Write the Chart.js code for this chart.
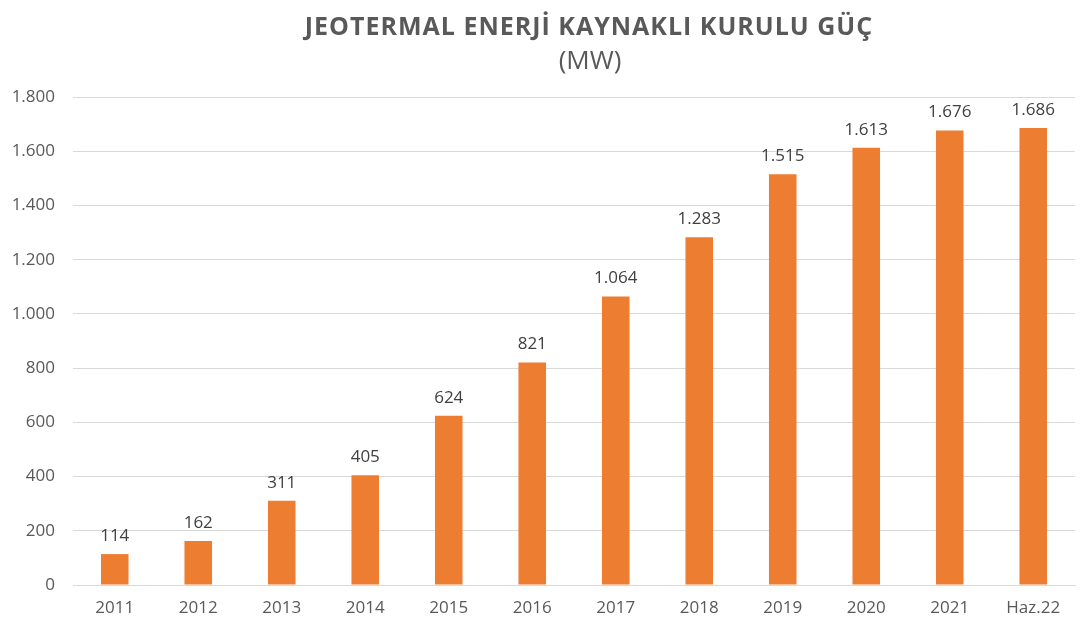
<!DOCTYPE html>
<html>
<head>
<meta charset="utf-8">
<script src="https://cdn.jsdelivr.net/npm/chart.js@4/dist/chart.umd.min.js"></script>
<style>
  html, body { margin: 0; padding: 0; background: #ffffff; }
  #wrap { width: 1081px; height: 622px; position: relative; }
</style>
</head>
<body>
<div id="wrap"><canvas id="c" width="1081" height="622"></canvas></div>
<script>
const categories = ['2011','2012','2013','2014','2015','2016','2017','2018','2019','2020','2021','Haz.22'];
const capacityMW = [114, 162, 311, 405, 624, 821, 1064, 1283, 1515, 1613, 1676, 1686];
const yTicks = [0, 200, 400, 600, 800, 1000, 1200, 1400, 1600, 1800];
const titleText = 'JEOTERMAL ENERJİ KAYNAKLI KURULU GÜÇ';
const subtitleText = '(MW)';

function fmt(v) {
  return String(v).replace(/\B(?=(\d{3})+(?!\d))/g, '.');
}

const titleBlock = {
  id: 'titleBlock',
  afterDraw(chart) {
    const ctx = chart.ctx;
    ctx.save();
    ctx.fillStyle = '#595959';
    ctx.textAlign = 'center';
    ctx.textBaseline = 'middle';
    ctx.font = 'bold 25px "Open Sans"';
    try { ctx.letterSpacing = '1px'; } catch (e) {}
    ctx.fillText(titleText, 589, 28);
    try { ctx.letterSpacing = '0px'; } catch (e) {}
    ctx.font = '26px "Open Sans"';
    ctx.fillText(subtitleText, 590, 62);
    ctx.restore();
  }
};

const valueLabels = {
  id: 'valueLabels',
  afterDatasetsDraw(chart) {
    const ctx = chart.ctx;
    const meta = chart.getDatasetMeta(0);
    ctx.save();
    ctx.font = '17px "Open Sans"';
    ctx.fillStyle = '#404040';
    ctx.textAlign = 'center';
    ctx.textBaseline = 'middle';
    meta.data.forEach((bar, i) => {
      ctx.fillText(fmt(capacityMW[i]), bar.x, bar.y - 18);
    });
    ctx.restore();
  }
};

new Chart(document.getElementById('c'), {
  type: 'bar',
  data: {
    labels: categories,
    datasets: [{
      data: capacityMW,
      backgroundColor: '#ED7D31',
      categoryPercentage: 1,
      barPercentage: 0.33
    }]
  },
  options: {
    responsive: false,
    animation: false,
    layout: { padding: { left: 0, right: 6, top: 97, bottom: 4 } },
    plugins: {
      legend: { display: false },
      tooltip: { enabled: false },
      title: { display: false },
      subtitle: { display: false }
    },
    scales: {
      x: {
        grid: { display: false, drawTicks: false },
        border: { display: true, color: '#d9d9d9', width: 1 },
        afterFit(scale) { scale.height = 33; },
        ticks: {
          color: '#595959',
          font: { family: '"Open Sans"', size: 17 },
          padding: 13,
          maxRotation: 0,
          autoSkip: false
        }
      },
      y: {
        min: 0,
        max: 1800,
        afterBuildTicks(axis) { axis.ticks = yTicks.map(v => ({ value: v })); },
        afterFit(scale) { scale.width = 73; },
        grid: { color: '#d9d9d9', drawTicks: false },
        border: { display: false },
        ticks: {
          color: '#595959',
          font: { family: '"Open Sans"', size: 17 },
          padding: 18,
          callback: (v) => fmt(v)
        }
      }
    }
  },
  plugins: [valueLabels, titleBlock]
});
</script>
</body>
</html>
